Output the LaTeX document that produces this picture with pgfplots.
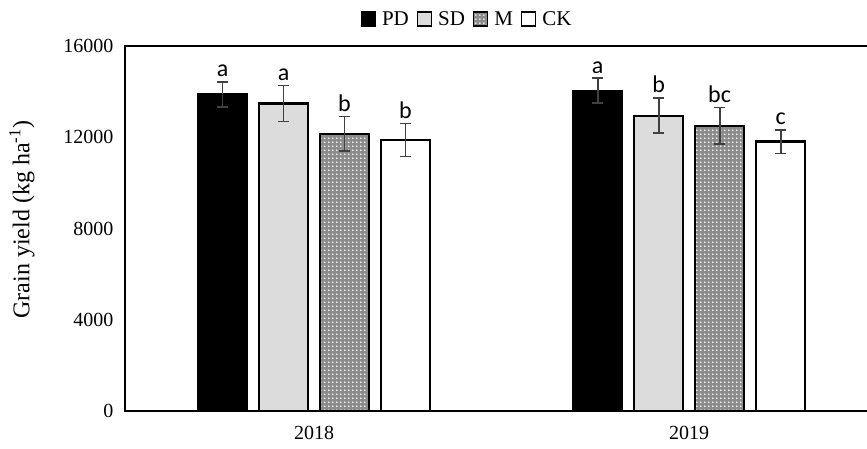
\documentclass[border=0pt]{standalone}
\usepackage{fontspec}
\setmainfont{Liberation Serif}
\newfontfamily\calfont{Carlito}
\usepackage{pgfplots}
\pgfplotsset{compat=1.18}
\usetikzlibrary{patterns.meta}
\tikzdeclarepattern{name=mydots, type=uncolored,
  bounding box={(0pt,0pt) and (4.2pt,4.2pt)}, tile size={(4.2pt,4.2pt)},
  code={\fill (2.1pt,2.1pt) circle (1.0pt);}}
\definecolor{sdgray}{HTML}{DCDCDC}
\definecolor{mgray}{HTML}{8C8C8C}
\definecolor{errc}{HTML}{404040}
\begin{document}
\begin{tikzpicture}[x=1pt,y=1pt]
\begin{axis}[
  at={(125pt,38pt)}, anchor=south west,
  scale only axis, width=753.5pt, height=365pt,
  ybar=12pt, bar width=49pt,
  xmin=-0.504, xmax=1.505,
  ymin=0, ymax=16000,
  ytick={0,4000,8000,12000,16000},
  scaled y ticks=false,
  xtick={0,1}, xticklabels={2018,2019},
  major tick length=0pt,
  axis line style={line width=2.2pt},
  /pgf/number format/assume math mode=true,
  /pgf/number format/1000 sep={},
  tick label style={font=\fontsize{20}{22}\selectfont},
  yticklabel style={xshift=-8pt},
  xticklabel style={yshift=-12pt},
  ylabel={Grain yield (kg ha\textsuperscript{-1})},
  every axis y label/.style={at={(axis description cs:0,0.5)}, rotate=90, anchor=center, yshift=103pt, xshift=9pt,
    font=\fontsize{24}{26}\selectfont},
  legend columns=4,
  legend style={draw=none, at={(0.454,1)}, anchor=south, yshift=15pt,
    font=\fontsize{21}{23}\selectfont, column sep=4pt,
    /tikz/every even column/.append style={column sep=6pt}},
  legend image code/.code={\draw[#1, line width=1.3pt] (0pt,-7pt) rectangle (14pt,7pt);},
  error bars/y dir=both, error bars/y explicit,
  error bars/error mark options={rotate=90, mark size=5.5pt, line width=1.8pt, errc},
  error bars/error bar style={line width=1.8pt, errc},
  clip=false,
]
\addplot[draw=black, line width=2.2pt, fill=black] coordinates {(0,13880) +- (0,550) (1,14040) +- (0,540)};
\addplot[draw=black, line width=2.2pt, fill=sdgray] coordinates {(0,13480) +- (0,790) (1,12940) +- (0,770)};
\addplot[draw=black, line width=2.2pt, fill=mgray, postaction={pattern=mydots, pattern color=white}] coordinates {(0,12150) +- (0,760) (1,12500) +- (0,800)};
\addplot[draw=black, line width=2.2pt, fill=white] coordinates {(0,11880) +- (0,720) (1,11810) +- (0,520)};
\legend{PD,SD,M,CK}
\begin{scope}[every node/.style={font=\calfont\fontsize{24}{26}\selectfont, anchor=south, inner sep=0pt, yshift=5pt}]
\node at (axis cs:-0.244,14430) {a};
\node at (axis cs:-0.0813,14270) {a};
\node at (axis cs:0.0813,12910) {b};
\node at (axis cs:0.244,12600) {b};
\node at (axis cs:0.756,14580) {a};
\node at (axis cs:0.9187,13710) {b};
\node at (axis cs:1.0813,13300) {bc};
\node at (axis cs:1.244,12330) {c};
\end{scope}
\end{axis}
\pgfresetboundingbox
\useasboundingbox (0,0) rectangle (867pt,449pt);
\end{tikzpicture}
\end{document}
